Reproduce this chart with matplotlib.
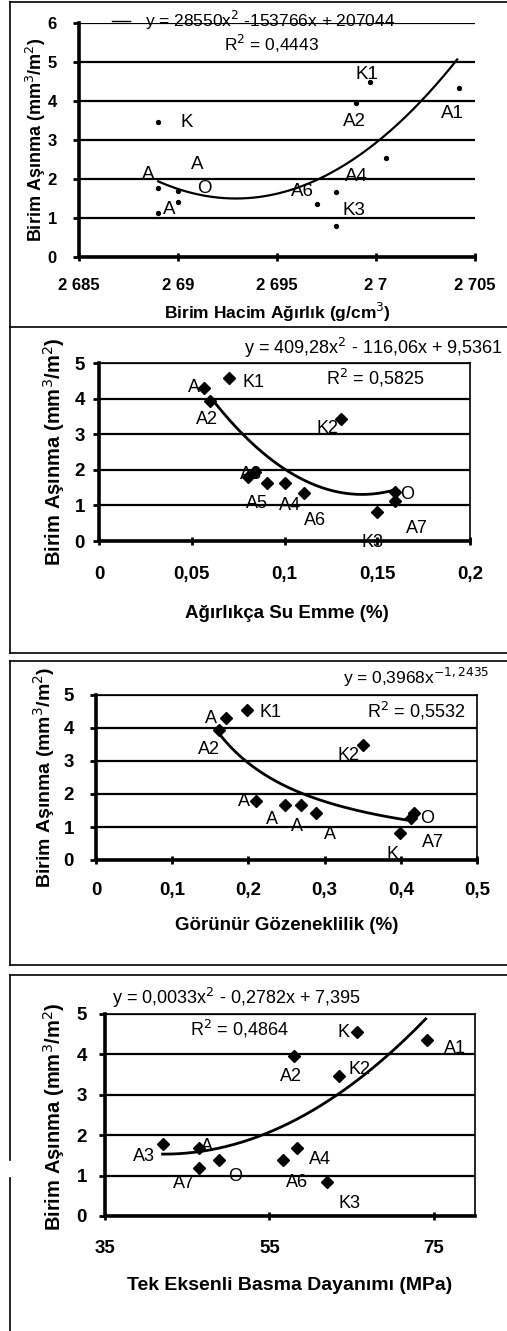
import numpy as np
import matplotlib
matplotlib.use('Agg')
import matplotlib.pyplot as plt
from matplotlib.lines import Line2D

plt.rcParams['font.family'] = ['Liberation Sans', 'DejaVu Sans']

W, H = 507, 1331

# panel 1: birim hacim agirlik (g/cm3)
p1_x = [2.689, 2.689, 2.689, 2.690, 2.690, 2.6997, 2.699, 2.697, 2.698, 2.698, 2.7005, 2.7042]
p1_y = [1.77, 3.46, 1.13, 1.68, 1.41, 4.50, 3.95, 1.37, 1.66, 0.80, 2.54, 4.33]
p1_lab = ['A', 'K', 'A', 'A', 'O', 'K1', 'A2', 'A6', 'A4', 'K3', '', 'A1']
p1_a, p1_b = 28550, -153766      # y = 28550x2 - 153766x + 207044
p1_min = 1.5                      # curve minimum
p1_rng = [2.689, 2.7041]
p1_xticks = [2.685, 2.69, 2.695, 2.7, 2.705]
p1_xtl = ['2 685', '2 69', '2 695', '2 7', '2 705']

# panel 2: agirlikca su emme (%)
p2_x = [0.0568, 0.0598, 0.0703, 0.1305, 0.0805, 0.0840, 0.0904, 0.1003, 0.1105, 0.150, 0.1596, 0.1596]
p2_y = [4.30, 3.92, 4.58, 3.42, 1.81, 1.95, 1.62, 1.62, 1.34, 0.81, 1.39, 1.11]
p2_lab = ['A', 'A2', 'K1', 'K2', 'A3', '', 'A5', 'A4', 'A6', 'K3', 'O', 'A7']
p2_coef = [409.28, -116.06, 9.5361]
p2_rng = [0.06, 0.16]
p2_xticks = [0, 0.05, 0.1, 0.15, 0.2]
p2_xtl = ['0', '0,05', '0,1', '0,15', '0,2']

# panel 3: gorunur gozeneklilik (%)
p3_x = [0.170, 0.161, 0.198, 0.350, 0.210, 0.248, 0.269, 0.289, 0.399, 0.417, 0.413]
p3_y = [4.29, 3.94, 4.55, 3.48, 1.80, 1.67, 1.67, 1.41, 0.83, 1.41, 1.26]
p3_lab = ['A', 'A2', 'K1', 'K2', 'A', 'A', 'A', 'A', 'K', 'O', 'A7']
p3_coef = [0.3968, -1.2435]
p3_rng = [0.16, 0.41]
p3_xticks = [0, 0.1, 0.2, 0.3, 0.4, 0.5]
p3_xtl = ['0', '0,1', '0,2', '0,3', '0,4', '0,5']

# panel 4: tek eksenli basma dayanimi (MPa)
p4_x = [42.0, 46.4, 46.4, 48.9, 56.7, 58.3, 58.0, 62.0, 63.5, 65.7, 74.2]
p4_y = [1.79, 1.68, 1.18, 1.39, 1.39, 1.69, 3.95, 0.83, 3.47, 4.55, 4.35]
p4_lab = ['A3', 'A', 'A7', 'O', 'A6', 'A4', 'A2', 'K3', 'K2', 'K', 'A1']
p4_coef = [0.0033, -0.2782, 7.395]
p4_rng = [42, 74]
p4_xticks = [35, 55, 75]
p4_xtl = ['35', '55', '75']

# label offsets (pixels from point)
p1_off = [(-10, 13), (29, 0), (11, 3), (19, 27), (26, 14), (-3, 7), (-2, -19),
          (-14, 12), (20, 16), (18, 15), (0, 0), (-7, -25)]
p2_off = [(-10, 0), (-3, -18), (24, -5), (-14, -9), (3, 2), (0, 0), (-10, -20),
          (5, -22), (11, -27), (-5, -30), (12, -3), (22, -27)]
p3_off = [(-15, 0), (-10, -20), (24, -3), (-14, -10), (-12, -1), (-13, -15),
          (-4, -22), (14, -21), (-8, -22), (13, -5), (22, -24)]
p4_off = [(-19, -13), (8, 2), (-15, -15), (16, -17), (14, -23), (23, -12),
          (-3, -20), (22, -21), (20, 6), (-14, 0), (28, -8)]


def fx(x):
    return x / W


def fy(y):
    return 1 - y / H


def line(fig, xs, ys, lw=1.2):
    fig.add_artist(Line2D([fx(v) for v in xs], [fy(v) for v in ys],
                          transform=fig.transFigure, color='black', lw=lw))


def axes_px(fig, left, top, right, bottom):
    return fig.add_axes([fx(left), fy(bottom), (right - left) / W, (bottom - top) / H])


def style(ax, xlim, ylim, xticks, xtl, xpad, ypad, size, frame=True):
    ax.set_xlim(xlim)
    ax.set_ylim(ylim)
    ax.set_xticks(xticks)
    ax.set_xticklabels(xtl)
    ax.set_yticks(range(int(ylim[1]) + 1))
    ax.yaxis.grid(True, color='black', lw=1.6)
    ax.set_axisbelow(True)
    for s in ['left', 'bottom']:
        ax.spines[s].set_linewidth(2.6)
    ax.spines['top'].set_visible(frame)
    ax.spines['right'].set_visible(frame)
    ax.spines['top'].set_linewidth(1.2)
    ax.spines['right'].set_linewidth(1.2)
    ax.tick_params(axis='x', direction='inout', length=6, width=2, pad=xpad, labelsize=size)
    ax.tick_params(axis='y', direction='out', length=4, width=2, pad=ypad, labelsize=size)
    for t in ax.get_xticklabels() + ax.get_yticklabels():
        t.set_fontweight('bold')
    ax.patch.set_alpha(0)


def labels(ax, xs, ys, labs, offs, size=13):
    for x, y, lab, o in zip(xs, ys, labs, offs):
        if lab:
            ax.annotate(lab, (x, y), xytext=o, textcoords='offset pixels',
                        ha='center', va='center', fontsize=size)


fig = plt.figure(figsize=(W / 100, H / 100), dpi=100)
fig.patch.set_facecolor('white')

# panel frames
line(fig, [10, 507], [2, 2])
line(fig, [10, 507], [327, 327])
line(fig, [10, 507], [653, 653])
line(fig, [10, 507], [661, 661])
line(fig, [10, 507], [965, 965])
line(fig, [10, 507], [975, 975])
line(fig, [10, 10], [2, 653])
line(fig, [10, 10], [661, 965])
line(fig, [10, 10], [975, 1160])
line(fig, [10, 10], [1178, 1331])

ylab = 'Birim Aşınma (mm$^3$/m$^2$)'

# ---- panel 1
ax1 = axes_px(fig, 79, 23, 475, 257)
style(ax1, (2.685, 2.705), (0, 6), p1_xticks, p1_xtl, 12, 12, 12, frame=False)
ax1.plot(p1_x, p1_y, 'o', color='black', ms=2.8)
xx = np.linspace(p1_rng[0], p1_rng[1], 200)
h1 = -p1_b / (2 * p1_a)
ax1.plot(xx, p1_a * (xx - h1) ** 2 + p1_min, color='black', lw=1.6)
labels(ax1, p1_x, p1_y, p1_lab, p1_off, 13.5)
line(fig, [112, 130], [21, 21], lw=1)
fig.text(fx(270), fy(20), 'y = 28550x$^2$ -153766x + 207044', ha='center', va='center', fontsize=12.5)
fig.text(fx(272), fy(44), 'R$^2$ = 0,4443', ha='center', va='center', fontsize=12.5)
fig.text(fx(277), fy(312), 'Birim Hacim Ağırlık (g/cm$^3$)', ha='center', va='center',
         fontsize=12.5, fontweight='bold')
fig.text(fx(36), fy(140), ylab, rotation=90, ha='center', va='center', fontsize=13, fontweight='bold')

# ---- panel 2
ax2 = axes_px(fig, 99, 363, 470, 541)
style(ax2, (0, 0.2), (0, 5), p2_xticks, p2_xtl, 15, 6, 13.5)
ax2.plot(p2_x, p2_y, 'D', color='black', ms=6)
xx = np.linspace(p2_rng[0], p2_rng[1], 200)
ax2.plot(xx, np.polyval(p2_coef, xx), color='black', lw=2)
labels(ax2, p2_x, p2_y, p2_lab, p2_off)
fig.text(fx(373), fy(348), 'y = 409,28x$^2$ - 116,06x + 9,5361', ha='center', va='center', fontsize=13)
fig.text(fx(375), fy(378), 'R$^2$ = 0,5825', ha='center', va='center', fontsize=13)
fig.text(fx(287), fy(613), 'Ağırlıkça Su Emme (%)', ha='center', va='center',
         fontsize=13.5, fontweight='bold')
fig.text(fx(54), fy(452), ylab, rotation=90, ha='center', va='center', fontsize=14.5, fontweight='bold')

# ---- panel 3
ax3 = axes_px(fig, 96, 695, 477, 860)
style(ax3, (0, 0.5), (0, 5), p3_xticks, p3_xtl, 13, 12, 13.5)
ax3.plot(p3_x, p3_y, 'D', color='black', ms=6)
xx = np.linspace(p3_rng[0], p3_rng[1], 200)
ax3.plot(xx, p3_coef[0] * xx ** p3_coef[1], color='black', lw=2)
labels(ax3, p3_x, p3_y, p3_lab, p3_off)
fig.text(fx(416), fy(677), 'y = 0,3968x$^{-1,2435}$', ha='center', va='center', fontsize=12.5)
fig.text(fx(416), fy(711), 'R$^2$ = 0,5532', ha='center', va='center', fontsize=13)
fig.text(fx(287), fy(925), 'Görünür Gözeneklilik (%)', ha='center', va='center',
         fontsize=13.5, fontweight='bold')
fig.text(fx(44), fy(777), ylab, rotation=90, ha='center', va='center', fontsize=14, fontweight='bold')

# ---- panel 4
ax4 = axes_px(fig, 105, 1014, 475, 1216)
style(ax4, (35, 80), (0, 5), p4_xticks, p4_xtl, 14, 9, 13.5)
ax4.plot(p4_x, p4_y, 'D', color='black', ms=6)
xx = np.linspace(p4_rng[0], p4_rng[1], 200)
ax4.plot(xx, np.polyval(p4_coef, xx), color='black', lw=2)
labels(ax4, p4_x, p4_y, p4_lab, p4_off)
fig.text(fx(237), fy(998), 'y = 0,0033x$^2$ - 0,2782x + 7,395', ha='center', va='center', fontsize=13)
fig.text(fx(239), fy(1029), 'R$^2$ = 0,4864', ha='center', va='center', fontsize=13)
fig.text(fx(290), fy(1285), 'Tek Eksenli Basma Dayanımı (MPa)', ha='center', va='center',
         fontsize=14, fontweight='bold')
fig.text(fx(54), fy(1117), ylab, rotation=90, ha='center', va='center', fontsize=14.5, fontweight='bold')

fig.savefig('out.png', dpi=100)
